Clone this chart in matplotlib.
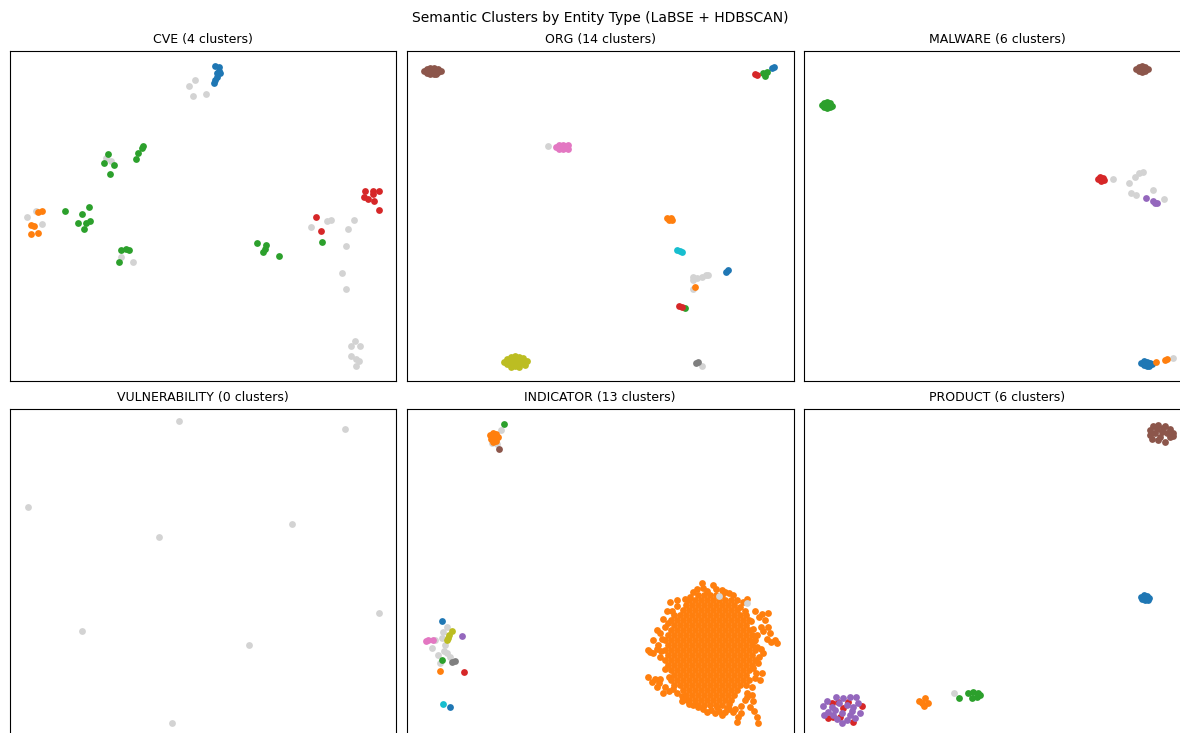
import matplotlib
matplotlib.use("Agg")
import matplotlib.pyplot as plt

# Entity types and how many HDBSCAN clusters each one produced
entity_types = ["CVE", "ORG", "MALWARE", "VULNERABILITY", "INDICATOR", "PRODUCT"]
cluster_counts = [4, 14, 6, 0, 13, 6]

# 2-D embedding coordinates per entity type, grouped by cluster label (-1 = noise)
cve_points = {
    -1: [(179.7, 295.3), (185.7, 301.3), (183.3, 285.0), (196.7, 286.7),
         (96.7, 222.7), (101.3, 220.3),
         (17.3, 164.0), (32.7, 157.3), (26.7, 170.3),
         (111.7, 123.7), (123.3, 119.3),
         (301.0, 154.0), (317.3, 160.0), (321.0, 160.7), (344.0, 161.3), (338.0, 152.3),
         (336.0, 135.0), (332.7, 108.0), (336.0, 92.3),
         (345.0, 40.3), (341.7, 35.0), (350.0, 34.7), (341.0, 25.0), (346.7, 21.7),
         (349.3, 20.0), (346.3, 14.7)],
    0: [(205.7, 315.0), (209.7, 314.3), (209.0, 310.3), (207.3, 307.7), (210.0, 308.3),
        (207.3, 303.7), (205.7, 301.0), (204.7, 298.3)],
    1: [(28.3, 169.0), (32.7, 170.3), (21.7, 156.3), (24.7, 155.3), (21.3, 147.3), (28.3, 148.0)],
    2: [(98.0, 227.0), (94.0, 218.0), (104.3, 216.3), (100.7, 207.3),
        (133.0, 235.0), (132.0, 232.7), (128.3, 227.7), (126.7, 222.3),
        (55.3, 169.7), (79.3, 174.3), (72.3, 167.0), (68.7, 158.0), (76.7, 158.3),
        (80.7, 160.0), (74.0, 151.7),
        (111.7, 130.7), (116.0, 132.3), (119.0, 130.7), (109.3, 119.3),
        (247.7, 138.3), (256.3, 136.0), (255.7, 131.7), (253.3, 128.7), (269.7, 125.3),
        (312.3, 139.0)],
    3: [(355.7, 190.0), (363.0, 190.0), (369.0, 190.0), (363.0, 186.7), (354.7, 184.3),
        (358.7, 181.7), (364.0, 180.0), (369.0, 171.0),
        (306.3, 164.3), (311.7, 150.0)],
}

org_points = {
    -1: [(141.0, 235.0), (286.3, 103.7), (290.3, 102.7), (294.7, 104.3), (299.0, 106.0),
         (301.3, 105.7), (286.3, 101.0), (286.3, 91.7), (295.3, 15.0)],
    0: [(318.5, 109.0), (321.0, 111.0)],
    1: [(260.0, 163.0), (262.0, 161.0), (265.0, 161.0), (264.0, 163.0)],
    2: [(278.0, 72.7)],
    3: [(272.3, 75.3), (274.7, 74.3)],
    5: [(17.0, 310.0), (20.0, 312.0), (20.0, 308.0), (23.0, 313.0), (23.0, 310.0), (23.0, 307.0),
        (27.0, 313.0), (27.0, 310.0), (27.0, 307.0), (31.0, 312.0), (31.0, 309.0), (34.0, 310.0),
        (29.0, 307.0)],
    6: [(149.0, 234.0), (152.0, 236.0), (152.0, 232.0), (156.0, 236.0), (156.0, 232.0),
        (159.0, 234.0), (161.0, 236.0), (161.0, 232.0)],
    7: [(291.3, 19.3), (289.0, 17.7)],
    8: [(97.0, 19.0), (100.0, 22.0), (100.0, 17.0), (104.0, 24.0), (104.0, 19.0), (104.0, 14.0),
        (108.0, 25.0), (108.0, 20.0), (108.0, 15.0), (112.0, 24.0), (112.0, 19.0), (112.0, 14.0),
        (116.0, 23.0), (116.0, 18.0), (120.0, 20.0), (118.0, 16.0)],
    9: [(270.0, 131.5), (273.0, 130.0), (275.0, 129.0)],
    10: [(364.7, 312.7), (367.0, 313.7)],
    11: [(288.0, 94.3)],
    12: [(356.3, 307.7), (358.0, 305.0), (359.7, 309.0)],
    13: [(348.0, 306.7), (349.7, 306.3)],
}

malware_points = {
    -1: [(308.7, 201.7), (325.3, 198.3), (331.0, 204.3), (335.3, 207.7), (339.3, 209.3),
         (348.7, 191.0), (327.0, 187.7), (332.0, 186.0), (360.3, 182.0), (369.3, 23.3)],
    0: [(337.0, 18.0), (340.0, 20.0), (340.0, 16.0), (343.0, 19.0), (343.0, 15.5), (346.0, 18.0),
        (348.0, 17.0), (345.0, 15.0)],
    1: [(352.0, 19.3), (361.0, 21.0), (363.3, 22.0)],
    2: [(18.0, 276.0), (20.0, 278.0), (20.0, 274.0), (23.0, 279.0), (23.0, 276.0), (23.0, 273.0),
        (26.0, 278.0), (26.0, 274.0), (28.0, 275.0)],
    3: [(294.0, 202.0), (296.0, 204.0), (297.0, 200.0), (299.0, 203.0), (300.0, 201.0)],
    4: [(342.0, 183.3), (349.3, 180.0), (353.3, 178.3), (351.0, 177.7)],
    5: [(332.0, 312.0), (335.0, 314.0), (335.0, 310.0), (338.0, 315.0), (338.0, 312.0),
        (338.0, 309.0), (341.0, 314.0), (341.0, 310.0), (344.0, 312.0)],
}

vulnerability_points = {
    -1: [(169.0, 318.3), (335.3, 309.7), (18.0, 232.3), (149.3, 202.0), (282.3, 214.7),
         (369.0, 126.3), (72.0, 108.3), (239.3, 94.3), (162.7, 15.7)],
}

# Dense core of the large INDICATOR cluster, one row of x values per y value
indicator_core_rows = [
    (34, [291, 297, 303, 309, 315]),
    (39, [282, 288, 294, 300, 306, 312, 318, 324]),
    (44, [279, 285, 291, 297, 303, 309, 315, 321, 327]),
    (49, [276, 282, 288, 294, 300, 306, 312, 318, 324, 330]),
    (54, [267, 273, 279, 285, 291, 297, 303, 309, 315, 321, 327, 333, 339]),
    (59, [264, 270, 276, 282, 288, 294, 300, 306, 312, 318, 324, 330, 336, 342]),
    (64, [267, 273, 279, 285, 291, 297, 303, 309, 315, 321, 327, 333, 339]),
    (69, [264, 270, 276, 282, 288, 294, 300, 306, 312, 318, 324, 330, 336, 342]),
    (74, [261, 267, 273, 279, 285, 291, 297, 303, 309, 315, 321, 327, 333, 339, 345]),
    (79, [258, 264, 270, 276, 282, 288, 294, 300, 306, 312, 318, 324, 330, 336, 342, 348]),
    (84, [261, 267, 273, 279, 285, 291, 297, 303, 309, 315, 321, 327, 333, 339, 345]),
    (89, [258, 264, 270, 276, 282, 288, 294, 300, 306, 312, 318, 324, 330, 336, 342, 348]),
    (94, [261, 267, 273, 279, 285, 291, 297, 303, 309, 315, 321, 327, 333, 339, 345]),
    (99, [258, 264, 270, 276, 282, 288, 294, 300, 306, 312, 318, 324, 330, 336, 342, 348]),
    (104, [261, 267, 273, 279, 285, 291, 297, 303, 309, 315, 321, 327, 333, 339, 345]),
    (109, [264, 270, 276, 282, 288, 294, 300, 306, 312, 318, 324, 330, 336, 342]),
    (114, [267, 273, 279, 285, 291, 297, 303, 309, 315, 321, 327, 333, 339]),
    (119, [264, 270, 276, 282, 288, 294, 300, 306, 312, 318, 324, 330, 336, 342]),
    (124, [267, 273, 279, 285, 291, 297, 303, 309, 315, 321, 327, 333, 339]),
    (129, [276, 282, 288, 294, 300, 306, 312, 318, 324, 330]),
    (134, [279, 285, 291, 297, 303, 309, 315, 321, 327]),
    (139, [282, 288, 294, 300, 306, 312, 318, 324]),
    (144, [291, 297, 303, 309, 315]),
]

# Ragged outer points of the large INDICATOR cluster
indicator_fringe = [
    # top edge
    (294.7, 156.3), (306.3, 154.0), (314.7, 149.0), (318.0, 147.3), (326.3, 144.0),
    (336.3, 137.3), (339.7, 139.7), (283.0, 142.3), (286.3, 147.3), (263.0, 137.3),
    (269.7, 139.0), (300.0, 148.0), (290.0, 150.0), (278.0, 140.0), (270.0, 133.0),
    (265.0, 128.0), (333.0, 132.0), (338.0, 128.0), (322.0, 146.0), (296.0, 151.0),
    (309.0, 150.0), (330.0, 139.0),
    # right edge
    (361.3, 125.7), (358.0, 119.0), (361.3, 112.3), (363.0, 105.7), (368.0, 99.0),
    (369.7, 95.7), (349.7, 92.3), (356.3, 85.7), (351.3, 75.7), (346.3, 70.7),
    (354.7, 65.7), (353.0, 59.0), (348.0, 128.0), (352.0, 122.0), (346.0, 110.0),
    (350.0, 104.0), (347.0, 98.0), (354.0, 112.0), (344.0, 118.0), (352.0, 82.0),
    (355.0, 125.0), (356.0, 108.0), (360.0, 100.0), (364.0, 97.0), (354.0, 90.0),
    (349.0, 66.0), (348.0, 61.0),
    # left edge
    (249.7, 109.0), (253.0, 105.7), (246.3, 99.0), (251.3, 94.3), (243.0, 87.3),
    (246.3, 85.7), (253.0, 82.3), (241.3, 62.3), (244.7, 57.3), (249.7, 52.3),
    (256.3, 45.7), (269.7, 45.7), (241.3, 89.0), (258.0, 112.0), (256.0, 120.0),
    (260.0, 128.0), (258.0, 70.0), (262.0, 62.0), (253.0, 60.0), (266.0, 50.0),
    (255.0, 100.0), (250.0, 90.0), (254.0, 88.0), (248.0, 60.0), (252.0, 56.0),
    (258.0, 52.0), (262.0, 48.0), (275.0, 43.0), (261.0, 116.0),
    # bottom edge
    (279.7, 39.0), (286.3, 34.0), (291.3, 32.3), (299.7, 27.3), (308.0, 25.7),
    (314.7, 24.0), (318.0, 27.3), (326.3, 27.3), (331.3, 22.3), (329.7, 17.3),
    (338.0, 39.0), (343.0, 32.3), (349.7, 22.3), (350.7, 15.7), (275.0, 38.0),
    (310.0, 32.0), (322.0, 35.0), (334.0, 33.0), (340.0, 46.0), (345.0, 52.0),
    (296.0, 30.0), (304.0, 29.0), (312.0, 28.0), (322.0, 30.0), (328.0, 30.0),
    (334.0, 26.0), (320.0, 31.0), (340.0, 42.0), (346.0, 38.0), (347.0, 28.0),
    (345.0, 44.0), (282.0, 35.0),
]

indicator_points = {
    -1: [(84.7, 295.7), (90.0, 295.0), (94.0, 309.0),
         (36.3, 107.3), (34.7, 100.7), (38.0, 94.0), (24.7, 90.7), (31.3, 84.0),
         (39.7, 85.7), (43.0, 82.3), (33.0, 75.7), (28.0, 99.0), (40.0, 112.0), (37.0, 88.0)],
    0: [(35.3, 118.0)],
    1: [(x, y) for y, xs in indicator_core_rows for x in xs] + indicator_fringe,
    2: [(34.7, 79.0)],
    3: [(57.0, 66.7)],
    4: [(54.7, 103.3)],
    5: [(92.3, 290.0)],
    6: [(19.0, 98.3), (21.0, 99.0), (26.3, 99.0)],
    7: [(44.7, 77.3), (48.0, 78.0)],
    8: [(44.7, 108.0), (42.3, 104.0), (39.7, 99.0), (41.0, 101.0)],
    9: [(36.3, 34.7)],
    10: [(43.0, 31.7)],
    11: [(83.0, 304.0), (86.0, 306.0), (89.0, 305.0), (84.0, 300.0), (88.0, 301.0),
         (91.0, 302.0), (86.0, 297.0), (89.0, 298.0), (85.0, 303.0), (33.0, 68.0)],
    12: [(97.3, 314.7)],
}

# Noise points that sit on top of the large INDICATOR cluster
indicator_noise_overlay = [(312.0, 143.0), (339.7, 135.7)]

product_points = {
    -1: [(150.3, 45.7)],
    0: [(337.0, 142.0), (340.0, 144.0), (343.0, 143.0), (345.0, 141.0), (341.0, 139.0),
        (338.0, 140.5), (344.0, 139.5)],
    1: [(117.7, 36.3), (121.0, 41.3), (124.3, 36.3), (120.0, 33.0), (115.3, 38.0)],
    2: [(154.7, 41.3), (164.3, 45.7), (169.3, 47.3), (174.3, 46.3), (176.0, 44.0),
        (167.7, 41.3), (172.7, 42.0)],
    3: [(28.3, 35.7), (34.3, 37.3), (44.3, 37.3), (58.3, 33.0), (29.3, 22.3), (39.3, 30.7),
        (49.3, 17.3), (24.3, 20.7), (36.0, 22.3)],
    4: [(18.7, 33.0), (22.7, 38.0), (32.0, 42.3), (39.3, 40.7), (46.0, 42.3), (52.0, 42.3),
        (54.3, 36.3), (49.3, 32.3), (42.7, 34.0), (35.3, 35.7), (27.7, 32.3), (24.3, 27.3),
        (20.3, 24.0), (29.3, 24.0), (37.7, 25.7), (46.0, 24.0), (51.0, 20.7), (56.0, 25.7),
        (37.7, 15.7), (32.7, 19.7), (42.7, 19.0), (47.7, 28.3), (31.0, 29.0)],
    5: [(346.0, 309.0), (349.3, 313.0), (354.3, 314.0), (361.0, 313.0), (366.0, 309.7),
        (369.3, 306.3), (366.0, 301.7), (361.0, 297.3), (354.3, 299.0), (347.7, 299.7),
        (351.0, 305.7), (357.7, 307.3), (362.7, 305.7), (356.0, 302.3), (359.3, 310.7),
        (352.7, 309.7), (346.0, 304.0), (369.3, 303.0)],
}

panels = [cve_points, org_points, malware_points,
          vulnerability_points, indicator_points, product_points]

NOISE_COLOR = "#d3d3d3"
palette = plt.get_cmap("tab10").colors
MARKER_SIZE = 24

W, H = 1180, 733
fig = plt.figure(figsize=(W / 100, H / 100), dpi=100)
fig.suptitle("Semantic Clusters by Entity Type (LaBSE + HDBSCAN)",
             x=600 / W, y=1 - 18 / H, va="center", fontsize=10)

col_left = [9.5, 407, 804]
row_top = [51, 409]
ax_w, ax_h = 386.5, 330

for i, (name, count, groups) in enumerate(zip(entity_types, cluster_counts, panels)):
    r, c = divmod(i, 3)
    ax = fig.add_axes([col_left[c] / W, 1 - (row_top[r] + ax_h) / H, ax_w / W, ax_h / H])
    for label in sorted(groups):
        xs, ys = zip(*groups[label])
        color = NOISE_COLOR if label < 0 else palette[label % 10]
        ax.scatter(xs, ys, s=MARKER_SIZE, color=color, linewidths=0)
    if name == "INDICATOR":
        xs, ys = zip(*indicator_noise_overlay)
        ax.scatter(xs, ys, s=MARKER_SIZE, color=NOISE_COLOR, linewidths=0)
    ax.set_xlim(0, ax_w)
    ax.set_ylim(0, ax_h)
    ax.set_xticks([])
    ax.set_yticks([])
    ax.set_title(f"{name} ({count} clusters)", fontsize=9)

fig.savefig("out.png", dpi=100)
